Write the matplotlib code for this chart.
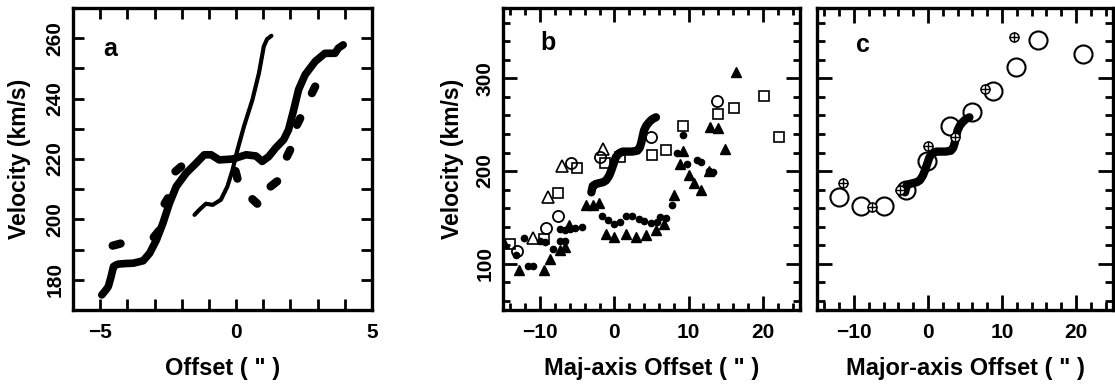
import numpy as np
import matplotlib.pyplot as plt
from matplotlib.ticker import MultipleLocator

plt.rcParams['font.family'] = ['Liberation Sans', 'DejaVu Sans']
plt.rcParams['font.weight'] = 'bold'

# ---- panel a: position-velocity traces
thick_off = [-4.94, -4.80, -4.70, -4.60, -4.51, -4.40, -4.33, -4.05, -3.78, -3.42, -3.18, -2.93,
             -2.69, -2.45, -2.20, -1.84, -1.47, -1.17, -0.92, -0.62, -0.12, 0.37, 0.73, 0.96,
             1.20, 1.45, 1.75, 1.93, 2.12, 2.30, 2.54, 2.91, 3.27, 3.52, 3.64, 3.76, 3.94]
thick_vel = [175.0, 176.5, 177.8, 181.0, 184.4, 185.0, 185.2, 185.4, 185.5, 186.3, 188.8, 193.2,
             198.8, 205.4, 210.9, 215.3, 218.6, 221.4, 221.4, 219.7, 220.0, 221.4, 221.0, 219.2,
             220.8, 223.6, 226.4, 229.7, 236.3, 243.0, 247.9, 252.3, 255.0, 255.0, 255.0, 256.7, 257.8]
thin_off = [-1.53, -1.35, -1.11, -0.86, -0.56, -0.32, -0.13, 0.05, 0.29, 0.60, 0.84, 1.02, 1.14, 1.30]
thin_vel = [201.5, 203.2, 205.2, 204.8, 206.5, 210.9, 216.4, 223.0, 230.8, 239.6, 248.4, 257.3, 259.7, 260.8]
# short blobs (start/end)
blob_x0 = [-4.54, -3.03, -2.63, -2.23, -0.02, 0.60, 1.27, 1.87, 2.24, 2.79]
blob_x1 = [-4.25, -2.83, -2.51, -2.02, 0.05, 0.78, 1.51, 1.99, 2.36, 2.91]
blob_y0 = [191.3, 194.1, 205.2, 215.9, 216.0, 206.7, 210.9, 220.8, 231.3, 241.8]
blob_y1 = [192.0, 196.3, 207.0, 217.5, 213.5, 205.2, 212.6, 223.0, 233.5, 244.0]

# ---- panel b
b_ocirc_x = [-13.1, -9.2, -7.6, -5.8, -2.0, 4.9, 13.8]
b_ocirc_y = [114, 139, 152, 209, 215, 237, 276]
b_osq_x = [-14.0, -9.5, -7.6, -5.1, -1.2, 0.8, 5.0, 6.9, 9.3, 14.0, 16.1, 20.1, 22.2]
b_osq_y = [121, 127, 176, 203, 209, 215, 217, 223, 249, 262, 268, 281, 237]
b_otri_x = [-10.9, -8.9, -7.0, -1.5]
b_otri_y = [128, 172, 205, 224]
b_fdot_x = [-13.3, -12.2, -11.6, -10.9, -10.0, -9.3, -8.3, -7.3, -6.7, -6.7, -7.3, -6.0, -5.3, -4.4,
            -1.6, -0.9, 0.0, 0.7, 1.6, 2.4, 3.3, 4.0, 4.9, 5.8, 6.2, 6.9, 7.8, 8.4, 9.3, 9.8,
            11.1, 11.6, 12.7, 13.3]
b_fdot_y = [109, 128, 98, 98, 125, 123, 116, 125, 125, 136, 137.5, 137.5, 138.6, 140,
            152, 147, 143, 145, 152, 151, 148, 146, 144, 145, 150, 149, 163, 220, 239, 208,
            212, 210, 200, 199]
b_ftri_x = [-14.9, -12.9, -9.5, -8.7, -7.3, -6.7, -6.1, -3.8, -2.9, -2.1, -1.1, 0.0, 1.6, 2.9,
            4.2, 5.6, 6.7, 8.0, 8.9, 9.3, 10.0, 10.7, 11.6, 12.8, 12.9, 14.0, 14.9, 16.4]
b_ftri_y = [122, 93, 93, 105, 115, 118, 142, 163, 163, 165, 132, 129, 132, 129,
            131, 136, 143, 174, 208, 222, 196, 187, 180, 200, 248, 246, 224, 307]
rc_x = [-3.1, -2.9, -2.5, -2.0, -1.5, -1.1, -0.7, -0.4, -0.1, 0.2, 0.6, 1.1, 1.7, 2.4, 3.1,
        3.4, 3.6, 3.8, 4.0, 4.3, 4.7, 5.1, 5.6]
rc_y = [177, 184, 186, 187, 188, 190, 195, 201, 208, 215, 219, 221, 221, 221, 222,
        225, 230, 237, 244, 249, 253, 256, 258]

# ---- panel c
c_circ_x = [-12.0, -9.1, -6.0, -3.0, -0.1, 3.0, 6.0, 8.8, 11.9, 14.9, 20.9]
c_circ_y = [172, 162, 162, 180, 211, 249, 264, 286, 312, 341, 326]
c_cross_x = [-11.5, -7.6, -3.8, 0.0, 3.7, 7.7, 11.6]
c_cross_y = [187, 161, 179, 227, 237, 289, 345]

W, H = 1115, 387
fig = plt.figure(figsize=(W / 100, H / 100), dpi=100)
bot, top = 1 - 310 / H, 1 - 8 / H
axa = fig.add_axes([73 / W, bot, 299 / W, top - bot])
axb = fig.add_axes([503 / W, bot, 297 / W, top - bot])
axc = fig.add_axes([817 / W, bot, 296 / W, top - bot])


def style(ax, maj, mino, ylabels=True):
    for s in ax.spines.values():
        s.set_linewidth(2.4)
    ax.tick_params(which='both', direction='in', top=True, right=True, width=2.0,
                   labelsize=15, pad=9)
    ax.tick_params(which='major', length=maj)
    ax.tick_params(which='minor', length=mino)
    ax.tick_params(axis='y', labelrotation=90, pad=6)
    if not ylabels:
        ax.tick_params(axis='y', labelleft=False)
    for lbl in ax.get_yticklabels():
        lbl.set_va('center')


# panel a
axa.plot(thick_off, thick_vel, color='black', lw=5.5, solid_capstyle='round', solid_joinstyle='round')
axa.plot(thin_off, thin_vel, color='black', lw=3.0, solid_capstyle='round')
for x0, x1, y0, y1 in zip(blob_x0, blob_x1, blob_y0, blob_y1):
    axa.plot([x0, x1], [y0, y1], color='black', lw=6, solid_capstyle='round')
axa.set_xlim(-6, 5)
axa.set_ylim(170, 270)
axa.xaxis.set_major_locator(MultipleLocator(5))
axa.xaxis.set_minor_locator(MultipleLocator(1))
axa.yaxis.set_major_locator(MultipleLocator(20))
axa.yaxis.set_minor_locator(MultipleLocator(10))
style(axa, 8, 8)
axa.set_xlabel('Offset ( " )', fontsize=17, fontweight='bold', va='center')
axa.xaxis.set_label_coords(0.5, (310 - 368) / 302)
axa.set_ylabel('Velocity (km/s)', fontsize=16.5, fontweight='bold', va='center')
axa.yaxis.set_label_coords((20 - 73) / 299, 0.5)
axa.text(0.125, 0.865, 'a', transform=axa.transAxes, fontsize=18, fontweight='bold',
         ha='center', va='center')

# panel b
axb.plot(rc_x, rc_y, color='black', lw=6, solid_capstyle='round', solid_joinstyle='round')
axb.plot(b_ocirc_x, b_ocirc_y, 'o', mfc='none', mec='black', ms=8, mew=1.3)
axb.plot(b_osq_x, b_osq_y, 's', mfc='none', mec='black', ms=6.5, mew=1.2)
axb.plot(b_otri_x, b_otri_y, '^', mfc='none', mec='black', ms=8, mew=1.2)
axb.plot(b_fdot_x, b_fdot_y, 'o', color='black', ms=4.5)
axb.plot(b_ftri_x, b_ftri_y, '^', color='black', ms=7.5)
axb.set_xlim(-15, 25)
axb.set_ylim(50, 376)
axb.xaxis.set_major_locator(MultipleLocator(10))
axb.xaxis.set_minor_locator(MultipleLocator(2))
axb.yaxis.set_major_locator(MultipleLocator(100))
axb.yaxis.set_minor_locator(MultipleLocator(20))
style(axb, 10, 5)
axb.set_xlabel('Maj-axis Offset ( " )', fontsize=17, fontweight='bold', va='center')
axb.xaxis.set_label_coords(0.5, (310 - 368) / 302)
axb.set_ylabel('Velocity (km/s)', fontsize=16.5, fontweight='bold', va='center')
axb.yaxis.set_label_coords((452 - 503) / 297, 0.5)
axb.text((548 - 503) / 297, 1 - (43 - 8) / 302, 'b', transform=axb.transAxes, fontsize=18,
         fontweight='bold', ha='center', va='center')

# panel c
axc.plot(rc_x, rc_y, color='black', lw=6, solid_capstyle='round', solid_joinstyle='round')
axc.plot(c_circ_x, c_circ_y, 'o', mfc='none', mec='black', ms=13, mew=1.5)
axc.plot(c_cross_x, c_cross_y, 'o', mfc='white', mec='black', ms=6.5, mew=1.1)
axc.plot(c_cross_x, c_cross_y, '+', color='black', ms=6.5, mew=1.0)
axc.set_xlim(-15, 25)
axc.set_ylim(50, 376)
axc.xaxis.set_major_locator(MultipleLocator(10))
axc.xaxis.set_minor_locator(MultipleLocator(2))
axc.yaxis.set_major_locator(MultipleLocator(100))
axc.yaxis.set_minor_locator(MultipleLocator(20))
style(axc, 11, 6, ylabels=False)
axc.set_xlabel('Major-axis Offset ( " )', fontsize=17, fontweight='bold', va='center')
axc.xaxis.set_label_coords(0.5, (310 - 368) / 302)
axc.text((863 - 817) / 296, 1 - (45 - 8) / 302, 'c', transform=axc.transAxes, fontsize=18,
         fontweight='bold', ha='center', va='center')

fig.savefig('out.png', dpi=100)
